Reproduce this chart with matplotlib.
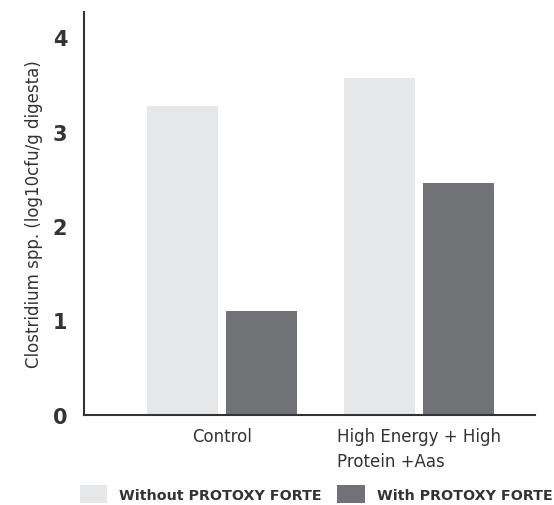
import numpy as np
import matplotlib.pyplot as plt
from matplotlib.patches import Patch

groups = ["Control", "High Energy + High\nProtein +Aas"]
without_pf = [3.27, 3.57]
with_pf = [1.10, 2.46]
series_names = ["Without PROTOXY FORTE", "With PROTOXY FORTE"]

light = "#e6e7e9"
dark = "#717275"
txt = "#333333"

fig = plt.figure(figsize=(5.54, 5.06), dpi=100)
ax = fig.add_axes([0.1516, 0.1779, 0.8141, 0.7964])

x = np.arange(len(groups))
w = 0.362
off = 0.2015
ax.bar(x - off, without_pf, w, color=light)
ax.bar(x + off, with_pf, w, color=dark)

ax.set_xlim(-0.704, 1.592)
ax.set_ylim(0, 4.265)
ax.set_yticks([0, 1, 2, 3, 4])
ax.set_xticks(x)
ax.set_xticklabels(groups, fontsize=12, color=txt, multialignment="left",
                   linespacing=1.45)
for t in ax.get_yticklabels():
    t.set_fontsize(15)
    t.set_fontweight("bold")
    t.set_color(txt)
ax.tick_params(axis="both", length=0)
ax.tick_params(axis="y", pad=12)
ax.tick_params(axis="x", pad=9)

for s in ["top", "right"]:
    ax.spines[s].set_visible(False)
for s in ["left", "bottom"]:
    ax.spines[s].set_linewidth(1.5)
    ax.spines[s].set_color(txt)

ax.set_ylabel("Clostridium spp. (log10cfu/g digesta)", fontsize=12, color=txt, labelpad=7)

handles = [Patch(facecolor=light, label=series_names[0]),
           Patch(facecolor=dark, label=series_names[1])]
leg = fig.legend(handles=handles, loc="lower left", bbox_to_anchor=(80 / 554, 2 / 506),
                 ncol=2, frameon=False, handlelength=1.9, handleheight=1.55,
                 handletextpad=0.84, columnspacing=1.1, borderpad=0,
                 borderaxespad=0, prop={"size": 10.3, "weight": "bold"})
for t in leg.get_texts():
    t.set_color(txt)

fig.savefig("out.png", dpi=100)
